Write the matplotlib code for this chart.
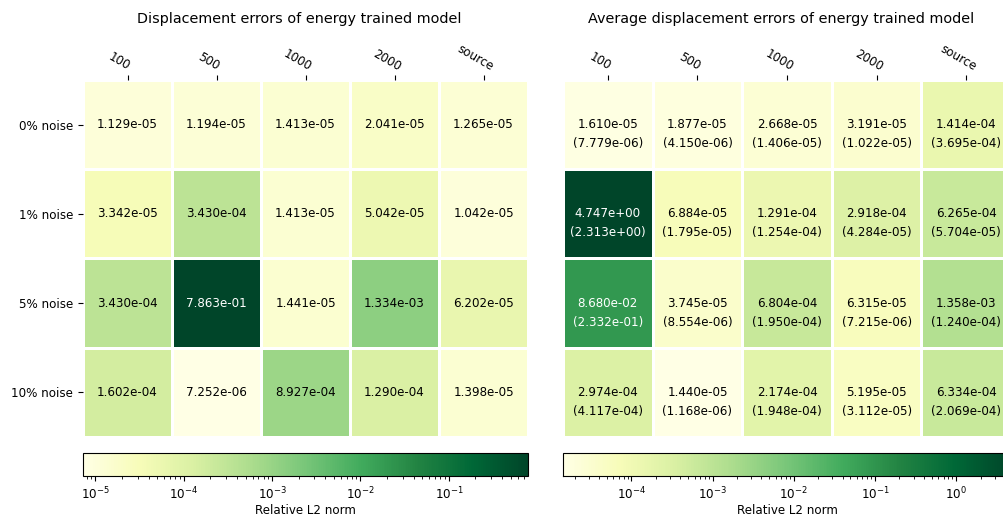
import matplotlib.pyplot as plt
import numpy as np
from matplotlib.colors import LogNorm, to_rgb
from matplotlib.transforms import ScaledTranslation

# rótulos
cols = ['100', '500', '1000', '2000', 'source']
rows = ['0% noise', '1% noise', '5% noise', '10% noise']

# erros de deslocamento (modelo treinado com energia)
disp_err = np.array([
    [1.129e-05, 1.194e-05, 1.413e-05, 2.041e-05, 1.265e-05],
    [3.342e-05, 3.430e-04, 1.413e-05, 5.042e-05, 1.042e-05],
    [3.430e-04, 7.863e-01, 1.441e-05, 1.334e-03, 6.202e-05],
    [1.602e-04, 7.252e-06, 8.927e-04, 1.290e-04, 1.398e-05],
])

# média e desvio padrão
avg_err = np.array([
    [1.610e-05, 1.877e-05, 2.668e-05, 3.191e-05, 1.414e-04],
    [4.747e+00, 6.884e-05, 1.291e-04, 2.918e-04, 6.265e-04],
    [8.680e-02, 3.745e-05, 6.804e-04, 6.315e-05, 1.358e-03],
    [2.974e-04, 1.440e-05, 2.174e-04, 5.195e-05, 6.334e-04],
])
avg_std = np.array([
    [7.779e-06, 4.150e-06, 1.406e-05, 1.022e-05, 3.695e-04],
    [2.313e+00, 1.795e-05, 1.254e-04, 4.284e-05, 5.704e-05],
    [2.332e-01, 8.554e-06, 1.950e-04, 7.215e-06, 1.240e-04],
    [4.117e-04, 1.168e-06, 1.948e-04, 3.112e-05, 2.069e-04],
])


def luminance(c):
    rgb = np.array(to_rgb(c))
    rgb = np.where(rgb <= .03928, rgb / 12.92, ((rgb + .055) / 1.055) ** 2.4)
    return rgb.dot([.2126, .7152, .0722])


def heatmap(ax, cax, vals, stds, title, show_rows):
    norm = LogNorm(vmin=vals.min(), vmax=vals.max())
    cmap = plt.get_cmap('YlGn')
    mesh = ax.pcolormesh(vals, cmap=cmap, norm=norm, edgecolors='white', linewidth=2)
    ax.set_xlim(0, vals.shape[1])
    ax.set_ylim(vals.shape[0], 0)
    for i in range(vals.shape[0]):
        for j in range(vals.shape[1]):
            cor = 'white' if luminance(cmap(norm(vals[i, j]))) < .408 else 'black'
            ax.text(j + 0.5, i + 0.5, f'{vals[i, j]:.3e}', ha='center', va='center',
                    fontsize=8.6, color=cor)
            if stds is not None:
                ax.text(j + 0.5, i + 0.713, f'({stds[i, j]:.3e})', ha='center', va='center',
                        fontsize=8.6, color=cor)
    ax.xaxis.tick_top()
    ax.set_xticks(np.arange(len(cols)) + 0.5)
    ax.set_xticklabels(cols, rotation=-30, fontsize=8.6)
    desloc = ScaledTranslation(-8 / 100, -3 / 100, fig.dpi_scale_trans)
    for lab in ax.get_xticklabels():
        lab.set_transform(lab.get_transform() + desloc)
    if show_rows:
        ax.set_yticks(np.arange(len(rows)) + 0.5)
        ax.set_yticklabels(rows, fontsize=8.6)
    else:
        ax.set_yticks([])
    for s in ax.spines.values():
        s.set_visible(False)
    ax.set_title(title, fontsize=10.4, pad=41, x=0.5 - 6 / 445)
    cb = plt.colorbar(mesh, cax=cax, orientation='horizontal')
    cb.set_label('Relative L2 norm', fontsize=8.6, labelpad=1)
    cb.ax.tick_params(labelsize=8.6)
    cb.outline.set_linewidth(0.8)


fig = plt.figure(figsize=(10.04, 5.19), dpi=100)
ax1 = fig.add_axes([0.0827, 0.158, 0.4432, 0.688])
ax2 = fig.add_axes([0.5608, 0.158, 0.4462, 0.688])
cax1 = fig.add_axes([0.0827, 0.083, 0.4432, 0.044])
cax2 = fig.add_axes([0.5608, 0.083, 0.4462, 0.044])

heatmap(ax1, cax1, disp_err, None, 'Displacement errors of energy trained model', True)
heatmap(ax2, cax2, avg_err, avg_std, 'Average displacement errors of energy trained model', False)

fig.savefig('out.png', dpi=100)
